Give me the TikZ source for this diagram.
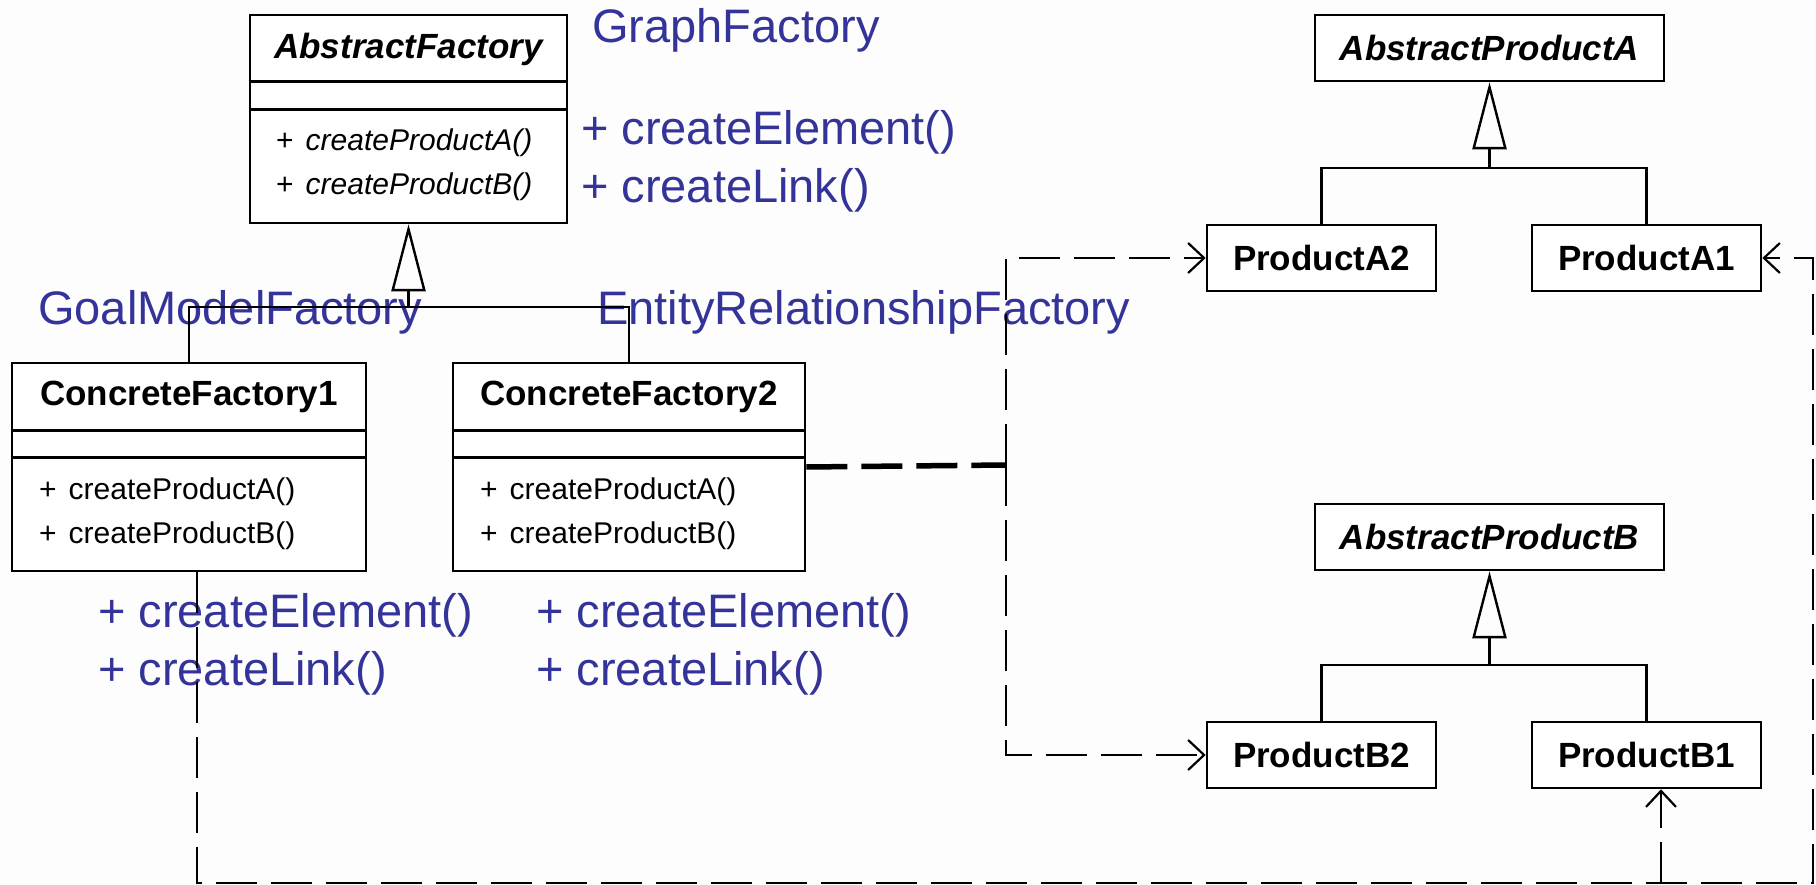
\documentclass[tikz,border=0pt]{standalone}
\usepackage{fontspec}
\setmainfont{Liberation Sans}
\usetikzlibrary{arrows.meta,calc}
\definecolor{noteblue}{RGB}{51,51,153}
\definecolor{paper}{RGB}{253,253,253}
\begin{document}
\begin{tikzpicture}[x=1pt,y=-1pt,
  cls/.style={draw=black,line width=2.6pt,fill=white,inner sep=0pt},
  clsname/.style={font=\fontsize{35}{40}\selectfont\bfseries,inner sep=0pt},
  meth/.style={font=\fontsize{30}{34}\selectfont,inner sep=0pt,anchor=west},
  note/.style={font=\fontsize{47}{56}\selectfont,text=noteblue,inner sep=0pt,anchor=base west},
  sep/.style={line width=2.6pt},
  link/.style={line width=2.4pt},
  gen/.style={line width=2.4pt,-{Triangle[open,length=67pt,width=34pt,line width=2.4pt]}},
  dep/.style={line width=2.4pt,dash pattern=on 41pt off 14pt,
    -{Straight Barb[length=16pt,width=30pt,line width=2.2pt]}},
  depthick/.style={line width=5.5pt,dash pattern=on 41pt off 14pt},
]
\fill[paper] (0,0) rectangle (1816,885);
\useasboundingbox (0,0) rectangle (1816,885);

% blue annotations
\node[note] (gf)  at (592,43)  {GraphFactory};
\node[note] (gfe) at (581,145) {+ createElement()};
\node[note] (gfl) at (581,203) {+ createLink()};
\node[note] (gm)  at (38,325)  {GoalModelFactory};
\node[note] (er)  at (597,325) {EntityRelationshipFactory};
\node[note] (gme) at (98,627)  {+ createElement()};
\node[note] (gml) at (98,685)  {+ createLink()};
\node[note] (ere) at (536,627) {+ createElement()};
\node[note] (erl) at (536,685) {+ createLink()};

% factory classes
\node[cls,minimum width=317pt,minimum height=208pt] (af) at (408.5,119) {};
\draw[sep] ($(af.north west)+(0,68)$) -- ($(af.north east)+(0,68)$);
\draw[sep] ($(af.north west)+(0,96)$) -- ($(af.north east)+(0,96)$);
\node[clsname] (afn) at (408.5,49) {\itshape AbstractFactory};
\node[meth] (afa) at (276,143) {+\hspace{12pt}\itshape createProductA()};
\node[meth] (afb) at (276,187) {+\hspace{12pt}\itshape createProductB()};

\node[cls,minimum width=354pt,minimum height=208pt] (cf1) at (189,467) {};
\draw[sep] ($(cf1.north west)+(0,69)$) -- ($(cf1.north east)+(0,69)$);
\draw[sep] ($(cf1.north west)+(0,96)$) -- ($(cf1.north east)+(0,96)$);
\node[clsname] (cf1n) at (189,397) {ConcreteFactory1};
\node[meth] (cf1a) at (39,492) {+\hspace{12pt}createProductA()};
\node[meth] (cf1b) at (39,536) {+\hspace{12pt}createProductB()};

\node[cls,minimum width=352pt,minimum height=208pt] (cf2) at (629,467) {};
\draw[sep] ($(cf2.north west)+(0,69)$) -- ($(cf2.north east)+(0,69)$);
\draw[sep] ($(cf2.north west)+(0,96)$) -- ($(cf2.north east)+(0,96)$);
\node[clsname] (cf2n) at (629,397) {ConcreteFactory2};
\node[meth] (cf2a) at (480,492) {+\hspace{12pt}createProductA()};
\node[meth] (cf2b) at (480,536) {+\hspace{12pt}createProductB()};

% product classes
\node[cls,minimum width=349pt,minimum height=66pt,font=\fontsize{35}{40}\selectfont\bfseries\itshape] (apa) at (1489.5,48) {AbstractProductA};
\node[cls,minimum width=229pt,minimum height=66pt,font=\fontsize{35}{40}\selectfont\bfseries] (pa2) at (1321.5,258) {ProductA2};
\node[cls,minimum width=229pt,minimum height=66pt,font=\fontsize{35}{40}\selectfont\bfseries] (pa1) at (1646.5,258) {ProductA1};
\node[cls,minimum width=349pt,minimum height=66pt,font=\fontsize{35}{40}\selectfont\bfseries\itshape] (apb) at (1489.5,537) {AbstractProductB};
\node[cls,minimum width=229pt,minimum height=66pt,font=\fontsize{35}{40}\selectfont\bfseries] (pb2) at (1321.5,755) {ProductB2};
\node[cls,minimum width=229pt,minimum height=66pt,font=\fontsize{35}{40}\selectfont\bfseries] (pb1) at (1646.5,755) {ProductB1};

% generalisation trees
\coordinate (fbar) at (408.5,307);
\draw[link] (cf1.north) |- (fbar) -| (cf2.north);
\draw[gen] (fbar) -- (af.south);

\coordinate (abar) at (1489.5,168);
\draw[link] (pa2.north) |- (abar) -| (pa1.north);
\draw[gen] (abar) -- (apa.south);

\coordinate (bbar) at (1489.5,665);
\draw[link] (pb2.north) |- (bbar) -| (pb1.north);
\draw[gen] (bbar) -- (apb.south);

% creation dependencies
\coordinate (jn) at (1006,465);
\draw[depthick] (cf2.east) -- (jn);
\draw[dep] (jn) |- (pa2.west);
\draw[dep] (jn) |- (pb2.west);

\coordinate (br) at (1813,883);
\draw[dep] ([xshift=8pt]cf1.south) |- (br) |- (pa1.east);
\coordinate (b1foot) at (1661,883);
\draw[dep] (b1foot) -- (b1foot |- pb1.south);
\end{tikzpicture}
\end{document}
